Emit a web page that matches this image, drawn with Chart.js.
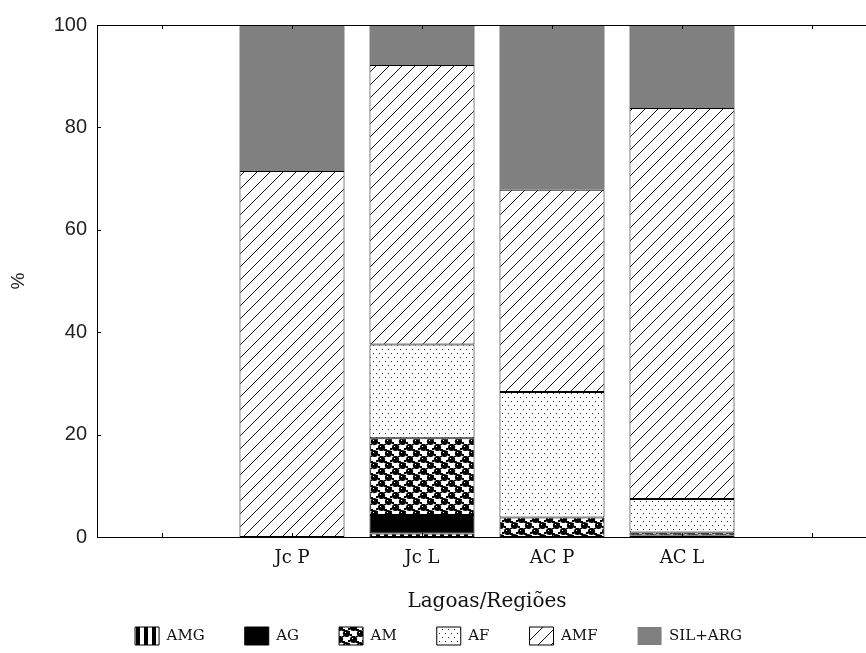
<!DOCTYPE html>
<html>
<head>
<meta charset="utf-8">
<script src="https://cdn.jsdelivr.net/npm/chart.js@4"></script>
<style>
  html, body { margin: 0; padding: 0; background: #fff; overflow: hidden; }
  #wrap { width: 900px; height: 653px; }
</style>
</head>
<body>
<div id="wrap"><canvas id="c"></canvas></div>
<script>
// Grain-size fractions (%) per lagoon / region
const categories = ['', 'Jc P', 'Jc L', 'AC P', 'AC L', ''];
const amg    = [null, 0,    0.7,  0,    0.3,  null];
const ag     = [null, 0,    3.6,  0,    0,    null];
const am     = [null, 0,    15.0, 3.8,  0.6,  null];
const af     = [null, 0,    18.3, 24.5, 6.5,  null];
const amf    = [null, 71.5, 54.6, 39.5, 76.4, null];
const silArg = [null, 28.5, 7.8,  32.2, 16.2, null];
const yTicks = [0, 20, 40, 60, 80, 100];

// ---- fill patterns ----
function tile(w, h, paint) {
  const cv = document.createElement('canvas');
  cv.width = w; cv.height = h;
  const g = cv.getContext('2d');
  paint(g, w, h);
  return document.getElementById('c').getContext('2d').createPattern(cv, 'repeat');
}
const patAMG = tile(8, 4, (g) => {
  g.fillStyle = '#fff'; g.fillRect(0, 0, 8, 4);
  g.fillStyle = '#000'; g.fillRect(0, 0, 4, 4);
});
const patAM = tile(14, 12, (g) => {
  g.fillStyle = '#fff'; g.fillRect(0, 0, 14, 12);
  g.fillStyle = '#000';
  const blob = (x, y) => { g.beginPath(); g.arc(x, y, 3.6, 0, Math.PI * 2); g.fill(); };
  blob(3.5, 3.5); blob(10.5, 9.5); blob(-3.5, 9.5); blob(17.5, 3.5); blob(10.5, -2.5); blob(3.5, 15.5);
  g.fillRect(6, 5, 3, 2); g.fillRect(0, 10, 2, 2); g.fillRect(12, 4, 2, 2);
  g.fillRect(6, 0, 2, 1); g.fillRect(13, 7, 1, 1);
  g.fillStyle = '#fff';
  g.fillRect(2, 2, 1, 1); g.fillRect(9, 8, 1, 1);
});
const patAF = tile(6, 8, (g) => {
  g.fillStyle = '#fff'; g.fillRect(0, 0, 6, 8);
  g.fillStyle = '#333';
  g.fillRect(1, 1, 1, 1); g.fillRect(4, 5, 1, 1);
});
const patAMF = tile(13, 13, (g) => {
  g.fillStyle = '#fff'; g.fillRect(0, 0, 13, 13);
  g.strokeStyle = '#111'; g.lineWidth = 1;
  g.beginPath();
  g.moveTo(-1, 14); g.lineTo(14, -1);
  g.moveTo(-1, 1); g.lineTo(1, -1);
  g.moveTo(12, 14); g.lineTo(14, 12);
  g.stroke();
});
const grey = '#808080';

const nz = arr => arr.map(v => (v === 0 ? null : v));

function series(label, data, fill, border) {
  return {
    label, data: nz(data),
    backgroundColor: fill,
    borderColor: '#000',
    borderWidth: border ? 1 : 0,
    borderSkipped: false,
    categoryPercentage: 1.0,
    barPercentage: 0.808
  };
}

// frame and inward tick marks of the plot
const frame = {
  id: 'frame',
  afterDatasetsDraw(chart) {
    const { ctx, chartArea: a, scales: { x, y } } = chart;
    ctx.save();
    ctx.strokeStyle = '#000';
    ctx.lineWidth = 1;
    ctx.beginPath();
    yTicks.forEach(v => {
      const py = Math.round(y.getPixelForValue(v)) + 0.5;
      ctx.moveTo(a.left, py); ctx.lineTo(a.left + 4, py);
      ctx.moveTo(a.right, py); ctx.lineTo(a.right - 4, py);
    });
    categories.forEach((c, i) => {
      const px = Math.round(x.getPixelForValue(i)) + 0.5;
      ctx.moveTo(px, a.top); ctx.lineTo(px, a.top + 4);
      ctx.moveTo(px, a.bottom); ctx.lineTo(px, a.bottom - 4);
    });
    ctx.stroke();
    ctx.strokeRect(Math.round(a.left) + 0.5, Math.round(a.top) + 0.5,
                   Math.round(a.right - a.left), Math.round(a.bottom - a.top));
    ctx.restore();
  }
};

new Chart(document.getElementById('c'), {
  type: 'bar',
  data: {
    labels: categories,
    datasets: [
      series('AMG', amg, patAMG, true),
      series('AG', ag, '#000', true),
      series('AM', am, patAM, true),
      series('AF', af, patAF, true),
      series('AMF', amf, patAMF, true),
      series('SIL+ARG', silArg, grey, false)
    ]
  },
  options: {
    responsive: true,
    maintainAspectRatio: false,
    animation: false,
    layout: { padding: { top: 25, right: 23, left: 0, bottom: -2 } },
    scales: {
      x: {
        stacked: true,
        afterFit(scale) { scale.height = 50; },
        grid: { display: false, drawTicks: false },
        border: { display: false },
        ticks: {
          color: '#111',
          padding: 11,
          font: { family: 'DejaVu Serif', size: 18 },
          maxRotation: 0, autoSkip: false
        },
        title: {
          display: true, text: 'Lagoas/Regiões', color: '#111',
          font: { family: 'DejaVu Serif', size: 20 },
          padding: { top: 0, bottom: -27 }
        }
      },
      y: {
        stacked: true,
        min: 0, max: 100,
        afterBuildTicks(scale) { scale.ticks = yTicks.map(v => ({ value: v })); },
        afterFit(scale) { scale.width = 97; },
        grid: { display: false, drawTicks: false },
        border: { display: false },
        ticks: {
          color: '#222',
          padding: 10,
          font: { family: 'Liberation Sans', size: 20 }
        },
        title: {
          display: true, text: '%', color: '#222',
          font: { family: 'Liberation Sans', size: 19 },
          padding: { top: 7, bottom: 0 }
        }
      }
    },
    plugins: {
      tooltip: { enabled: false },
      legend: {
        position: 'bottom',
        labels: {
          color: '#111',
          boxWidth: 24, boxHeight: 18,
          padding: 40,
          font: { family: 'DejaVu Serif', size: 15 }
        }
      }
    }
  },
  plugins: [frame]
});
</script>
</body>
</html>
